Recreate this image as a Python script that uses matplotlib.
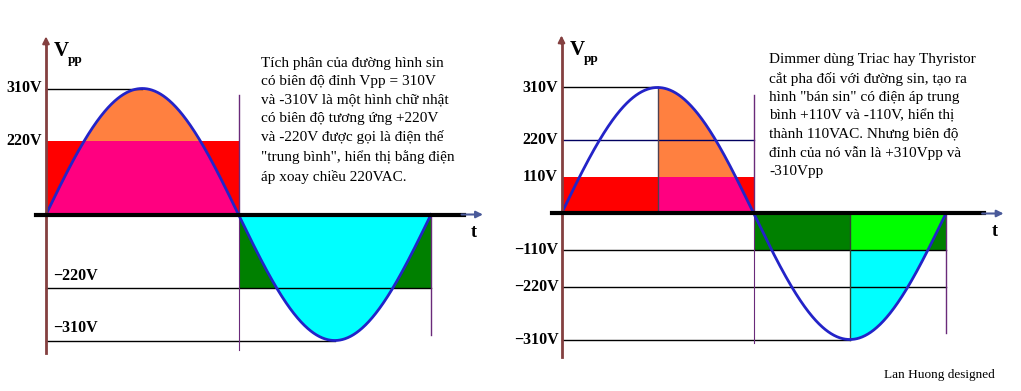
import numpy as np
import matplotlib
matplotlib.use('Agg')
import matplotlib.pyplot as plt

# du lieu doc tu hinh
peak_v = 310
left_labels = ['310V', '220V']
left_levels = [310, 182]            # do cao ve tren hinh (220V ve o ~182)
right_labels = ['310V', '220V', '110V']
right_levels = [310, 182, 91]       # 110V ve o ~91
left_neg_labels = ['\u2212220V', '\u2212310V']
right_neg_labels = ['\u2212110V', '\u2212220V', '\u2212310V']

text_left = ['Tích phân của đường hình sin',
             'có biên độ đỉnh Vpp = 310V',
             'và -310V là một hình chữ nhật',
             'có biên độ tương ứng +220V',
             'và -220V được gọi là điện thế',
             '"trung bình", hiển thị bằng điện',
             'áp xoay chiều 220VAC.']
text_right = ['Dimmer dùng Triac hay Thyristor',
              'cắt pha đối với đường sin, tạo ra',
              'hình "bán sin" có điện áp trung',
              'bình +110V và -110V, hiển thị',
              'thành 110VAC. Nhưng biên độ',
              'đỉnh của nó vẫn là +310Vpp và',
              '-310Vpp']

W, H = 1021, 391
fig = plt.figure(figsize=(W / 100, H / 100), dpi=100)
serif = 'Liberation Serif'

RED = '#ff0000'
ORANGE = '#ff8040'
PINK = '#ff0080'
DGREEN = '#008000'
LIME = '#00ff00'
CYAN = '#00ffff'
BLUE = '#2323c8'
PURPLE = '#6a2a7a'
MAROON = '#844040'

px_v = 126 / 310.0  # pixel per volt


def make_ax(x0, y0, sx):
    # truc phu toan bo hinh, goc (0,0) o pixel (x0, y0)
    ax = fig.add_axes([0, 0, 1, 1])
    ax.set_xlim(-x0 / sx, (W - x0) / sx)
    ax.set_ylim(-(H - y0) / px_v, y0 / px_v)
    ax.axis('off')
    ax.patch.set_alpha(0)
    return ax


def axes_common(ax, sx, top, bottom, xend):
    ax.plot([0, 0], [bottom, top], color=MAROON, lw=2, zorder=5)
    ax.annotate('', xy=(0, top + 20), xytext=(0, top - 15),
                arrowprops=dict(arrowstyle='-|>', color=MAROON, lw=1.5), zorder=6)
    ax.plot([-10 / sx, xend], [0, 0], color='black', lw=3, zorder=5)
    ax.annotate('', xy=(xend + 22 / sx, 0), xytext=(xend - 5 / sx, 0),
                arrowprops=dict(arrowstyle='-|>', color='#4a5a9a', lw=1.5), zorder=6)
    ax.text(xend + 10 / sx, -45, 't', fontsize=13, fontweight='bold',
            family=serif, ha='center', va='center')
    ax.text(8 / sx, 402, 'V', fontsize=15, fontweight='bold', family=serif,
            ha='left', va='center')
    ax.text(22 / sx, 380, 'pp', fontsize=9.5, fontweight='bold', family=serif,
            ha='left', va='center')


t = np.linspace(0, 2, 801)
v = peak_v * np.sin(np.pi * t)
pos = t <= 1
neg = t >= 1

# ---------- ben trai ----------
sxL = 192.5
axL = make_ax(46, 214.5, sxL)
lvl = left_levels[1]
axL.fill_between([0, 1], 0, lvl, color=RED, lw=0)
axL.fill_between(t[pos], 0, np.minimum(v[pos], lvl), color=PINK, lw=0)
axL.fill_between(t[pos], lvl, v[pos], where=v[pos] > lvl, color=ORANGE, lw=0, interpolate=True)
axL.fill_between([1, 2], -lvl, 0, color=DGREEN, lw=0)
axL.fill_between(t[neg], v[neg], 0, color=CYAN, lw=0)
axL.plot(t, v, color=BLUE, lw=2, zorder=4)
axL.plot([0, 0.5], [peak_v, peak_v], color='black', lw=1)
axL.plot([0, 2], [-lvl, -lvl], color='black', lw=1)
axL.plot([0, 1.5], [-peak_v, -peak_v], color='black', lw=1)
axL.plot([1, 1], [0, 294], color=PURPLE, lw=1)
axL.plot([1, 1], [0, -333], color=PURPLE, lw=0.8)
axL.plot([2, 2], [0, -296], color=PURPLE, lw=1)
axes_common(axL, sxL, 425, -341, 2.17)
for lab, y in zip(left_labels, left_levels):
    axL.text(-4 / sxL, y, lab, fontsize=11.5, fontweight='bold', family=serif,
             ha='right', va='center')
for lab, y in zip(left_neg_labels, [-lvl, -peak_v]):
    axL.annotate(lab, xy=(0, y), xytext=(5, 3), textcoords='offset points',
                 fontsize=11.5, fontweight='bold', family=serif, ha='left', va='bottom')

# ---------- ben phai ----------
sxR = 192.2
axR = make_ax(561.5, 213.5, sxR)
l1, l2 = right_levels[2], right_levels[1]
axR.fill_between([0, 1], 0, l1, color=RED, lw=0)
q2 = (t >= 0.5) & (t <= 1)
axR.fill_between(t[q2], 0, np.minimum(v[q2], l1), color=PINK, lw=0)
axR.fill_between(t[q2], l1, v[q2], where=v[q2] > l1, color=ORANGE, lw=0, interpolate=True)
axR.fill_between([1, 2], -l1, 0, color=DGREEN, lw=0)
q4 = t >= 1.5
axR.fill_between(t[q4], np.maximum(v[q4], -l1), 0, color=LIME, lw=0)
axR.fill_between(t[q4], v[q4], -l1, where=v[q4] < -l1, color=CYAN, lw=0, interpolate=True)
axR.plot(t, v, color=BLUE, lw=2, zorder=4)
axR.plot([0, 0.5], [peak_v, peak_v], color='black', lw=1)
axR.plot([0, 1], [l2, l2], color='#000060', lw=1)
axR.plot([0, 2], [-l1, -l1], color='black', lw=1)
axR.plot([0, 2], [-l2, -l2], color='black', lw=1)
axR.plot([0, 1.5], [-peak_v, -peak_v], color='black', lw=1)
axR.plot([0.5, 0.5], [0, peak_v], color='#504050', lw=1)
axR.plot([1, 1], [0, 291], color=PURPLE, lw=1)
axR.plot([1, 1], [0, -318], color=PURPLE, lw=0.8)
axR.plot([1.5, 1.5], [0, -peak_v], color='#304030', lw=1)
axR.plot([2, 2], [0, -294], color=PURPLE, lw=1)
axes_common(axR, sxR, 425, -354, 2.2)
for lab, y in zip(right_labels, right_levels):
    axR.text(-4 / sxR, y, lab, fontsize=11.5, fontweight='bold', family=serif,
             ha='right', va='center')
for lab, y in zip(right_neg_labels, [-l1, -l2, -peak_v]):
    axR.text(-3 / sxR, y, lab, fontsize=11.5, fontweight='bold', family=serif,
             ha='right', va='center')

# ---------- chu thich ----------
fig.text(261 / W, 1 - 57 / H, '\n'.join(text_left), fontsize=11, family=serif,
         ha='left', va='top', linespacing=1.52)
fig.text(769 / W, 1 - 53 / H, '\n'.join(text_right), fontsize=11, family=serif,
         ha='left', va='top', linespacing=1.52)
fig.text(884 / W, 1 - 375 / H, 'Lan Huong designed', fontsize=9.5, family=serif,
         ha='left', va='center')

fig.savefig('out.png', dpi=100)
